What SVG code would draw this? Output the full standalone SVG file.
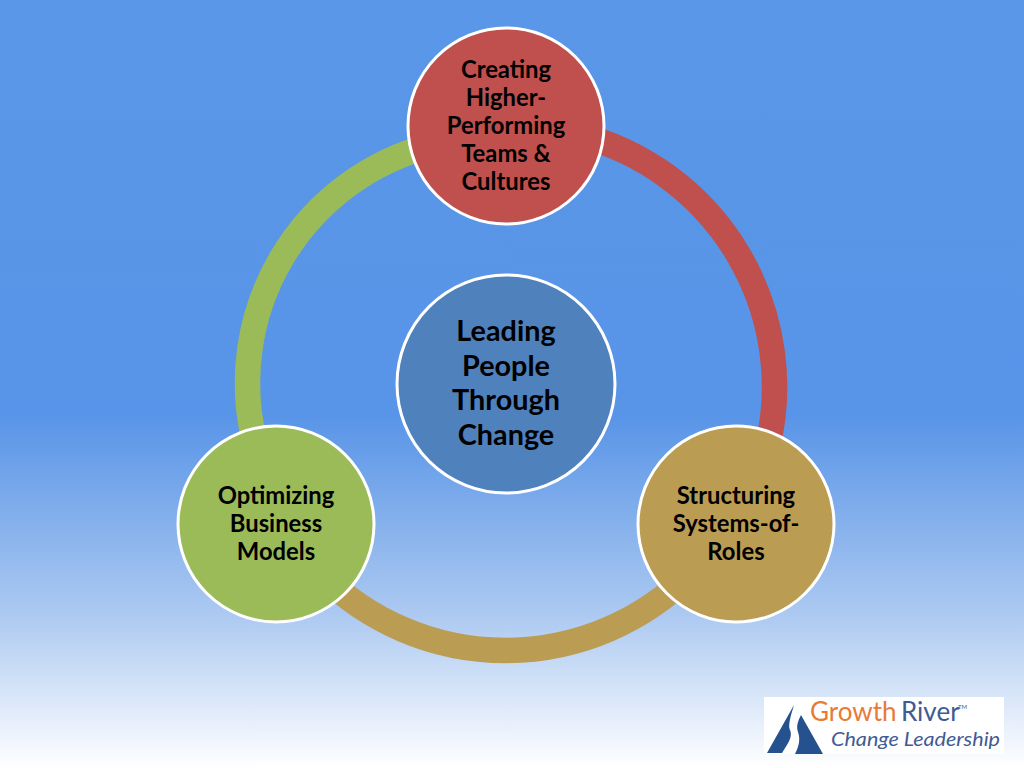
<svg xmlns="http://www.w3.org/2000/svg" width="1024" height="768" viewBox="0 0 1024 768">
<style>
.node{stroke:#fff;stroke-width:3}
.ring{fill:none;stroke-width:25.5}
text{font-family:"Lato","Liberation Sans",sans-serif;font-weight:700;fill:#000;text-anchor:middle}
.s{font-size:23.8px}
.b{font-size:28.8px}
.logo{font-weight:400;text-anchor:start}
.navy{fill:#3f5b94}
.mark{fill:#26518f}
</style>
<defs>
<linearGradient id="bg" x1="0" y1="0" x2="0" y2="1">
<stop offset="0" stop-color="#5b97e8"/>
<stop offset="0.54" stop-color="#5894e7"/>
<stop offset="0.8" stop-color="#acc9f1"/>
<stop offset="1" stop-color="#ffffff"/>
</linearGradient>
</defs>
<rect id="background" width="1024" height="768" fill="url(#bg)"/>
<g id="connectors">
<path class="ring" stroke="#c0504d" d="M580 135A260.5 260.5 0 0 1 766.8 450"/>
<path class="ring" stroke="#bb9c53" d="M690 574A261 261 0 0 1 321 574"/>
<path class="ring" stroke="#9bbb59" d="M254.2 440A245.5 245.5 0 0 1 430 145.7"/>
</g>
<g id="node-top">
<circle class="node" cx="506" cy="126" r="98" fill="#c0504d"/>
<text class="s" x="506" y="78">Creating</text>
<text class="s" x="506" y="106">Higher-</text>
<text class="s" x="506" y="134">Performing</text>
<text class="s" x="506" y="162">Teams &amp;</text>
<text class="s" x="506" y="190">Cultures</text>
</g>
<g id="node-center">
<circle class="node" cx="506" cy="384" r="109" fill="#4f81bd"/>
<text class="b" x="506" y="341">Leading</text>
<text class="b" x="506" y="376">People</text>
<text class="b" x="506" y="410">Through</text>
<text class="b" x="506" y="444.500">Change</text>
</g>
<g id="node-left">
<circle class="node" cx="276" cy="524" r="98" fill="#9bbb59"/>
<text class="s" x="276" y="504">Optimizing</text>
<text class="s" x="276" y="532">Business</text>
<text class="s" x="276" y="560">Models</text>
</g>
<g id="node-right">
<circle class="node" cx="736" cy="524" r="98" fill="#bb9c53"/>
<text class="s" x="736" y="504">Structuring</text>
<text class="s" x="736" y="532">Systems-of-</text>
<text class="s" x="736" y="560">Roles</text>
</g>
<g id="logo">
<rect x="764" y="697" width="240" height="57" fill="#fff"/>
<path class="mark" d="M767 753L794 705C790 718 788 726 790 730C793 737 788 743 782 753Z"/>
<path class="mark" d="M801 715L823 754L795 754C800 744 800 738 798 732C796 726 798 721 801 715Z"/>
<text class="logo" x="810" y="721" font-size="26" style="fill:#e87b35">Growth</text>
<text class="logo navy" x="901" y="721" font-size="26">River</text>
<text class="logo navy" x="958" y="709" font-size="6">TM</text>
<text class="logo navy" x="831" y="746" font-size="20" font-style="italic" textLength="169" lengthAdjust="spacingAndGlyphs">Change Leadership</text>
</g>
</svg>
